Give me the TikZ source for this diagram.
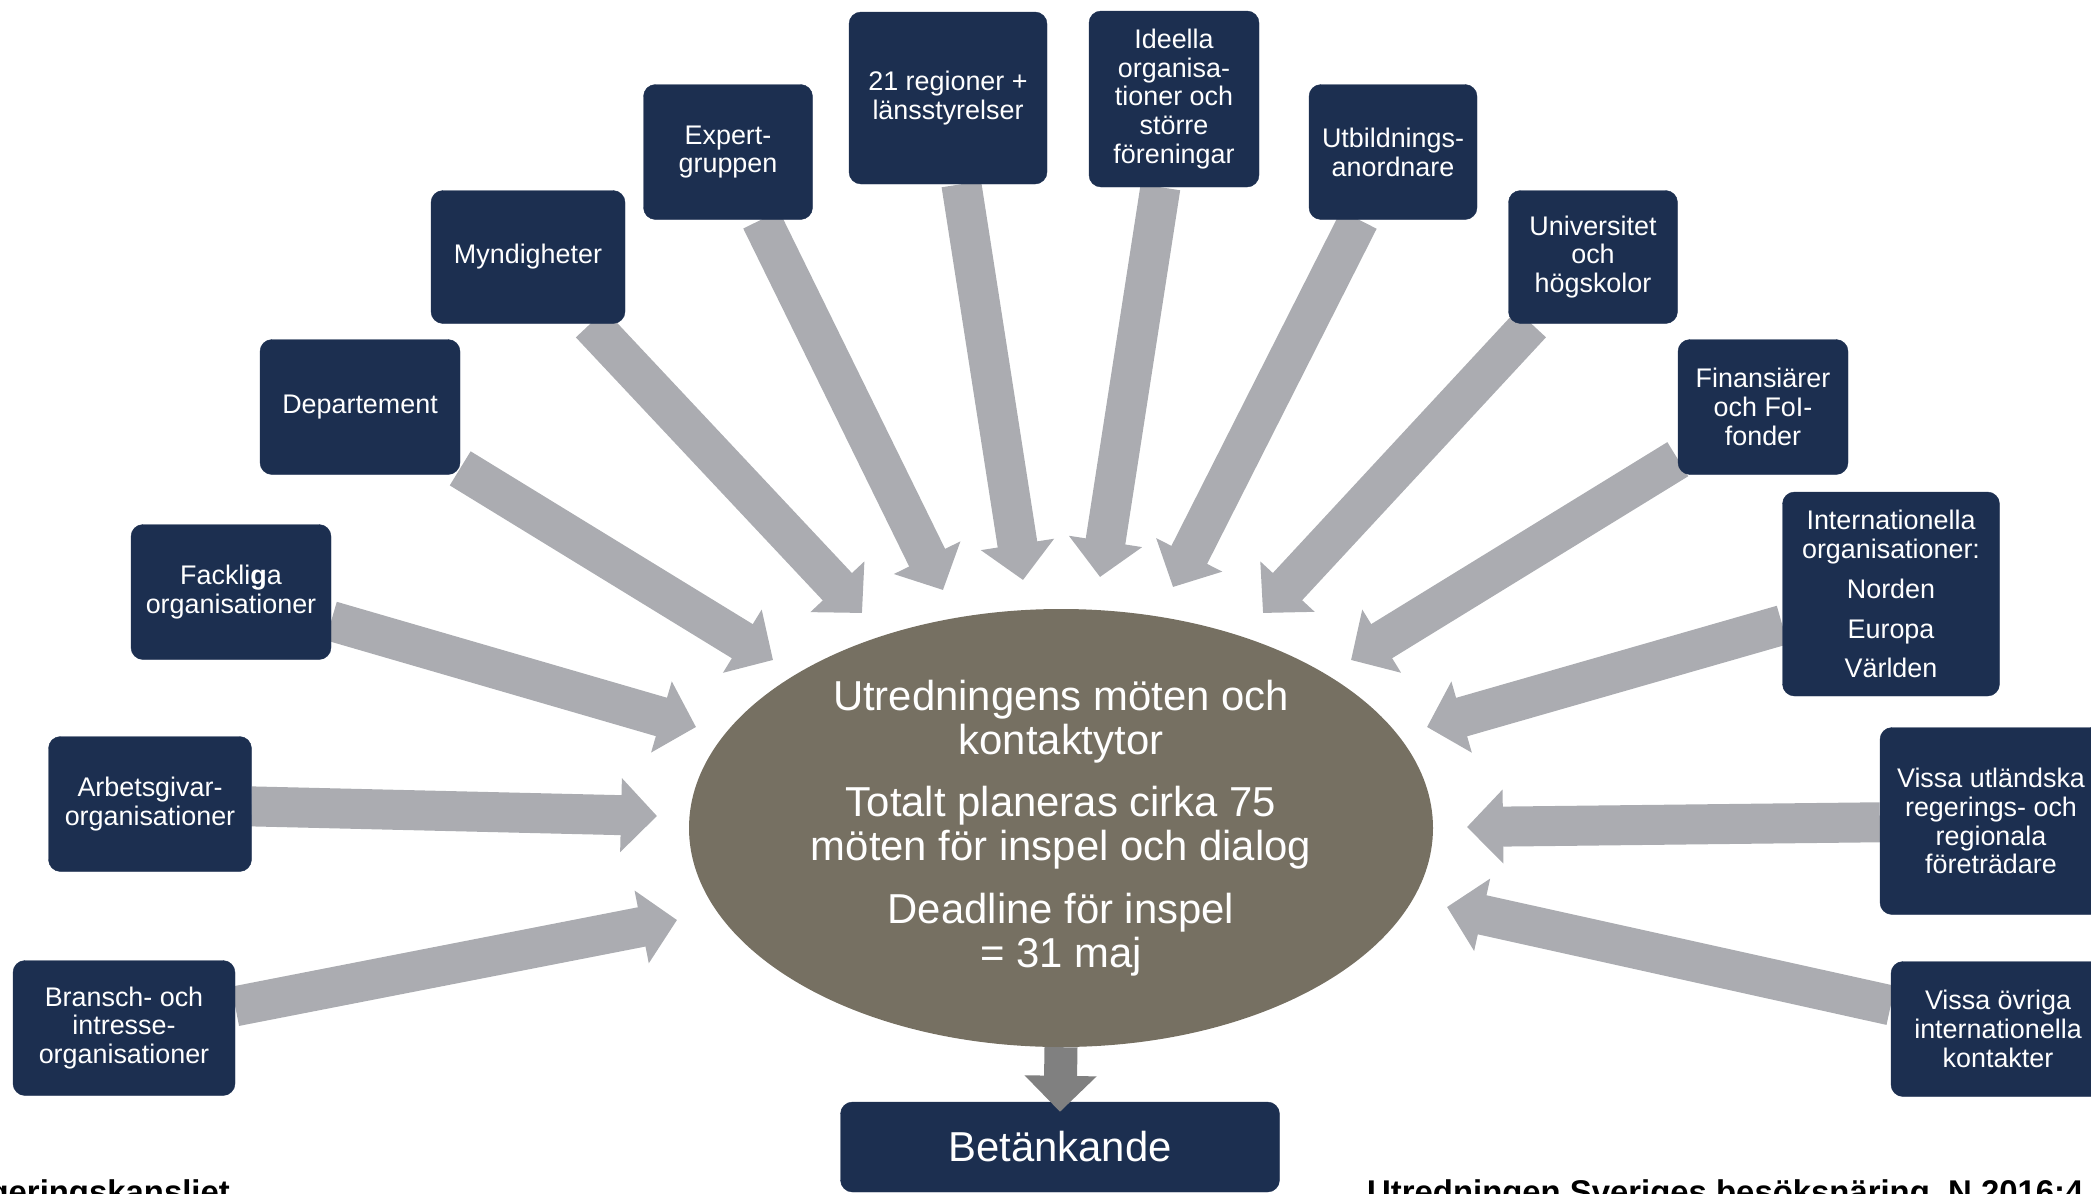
\documentclass[tikz,border=0pt]{standalone}
\usepackage{fontspec}
\setmainfont{Liberation Sans}
\usetikzlibrary{shapes.geometric,arrows.meta,backgrounds}
\definecolor{navy}{HTML}{1C2F50}
\definecolor{feedgray}{HTML}{ABACB1}
\definecolor{taupe}{HTML}{767062}
\definecolor{outgray}{HTML}{808080}

\begin{document}
\begin{tikzpicture}[
  box/.style={draw=navy,fill=navy,text=white,rounded corners=12bp,align=center,
    inner sep=0pt,minimum height=135bp,font=\fontsize{27}{29}\selectfont},
  feed/.style={draw=feedgray,line width=40bp,-{Triangle[width=72bp,length=36bp]}},
  result/.style={draw=outgray,line width=33bp,-{Triangle[width=70bp,length=36bp]}},
  foot/.style={inner sep=0pt,font=\bfseries\fontsize{#1}{#1}\selectfont}
]
\useasboundingbox (0bp,0bp) rectangle (2091bp,-1194bp);

% hub in the middle
\node (hub) at (1061bp,-828bp)[ellipse,fill=taupe,text=white,inner sep=0pt,minimum width=744bp,minimum height=438bp,align=center,font=\fontsize{42}{44}\selectfont]
  {Utredningens möten och\\ kontaktytor\\[19bp] Totalt planeras cirka 75\\ möten för inspel och dialog\\[19bp] Deadline för inspel\\ = 31 maj};

% contacts, left to right
\node (bra) at (124bp,-1028bp)[box,minimum width=222bp] {Bransch- och\\ intresse-\\ organisationer};
\node (arb) at (150bp,-804bp)[box,minimum width=203bp] {Arbetsgivar-\\ organisationer};
\node (fac) at (231bp,-592bp)[box,minimum width=200bp] {Fackli{\bfseries g}a\\ organisationer};
\node (dep) at (360bp,-407bp)[box,minimum width=200bp] {Departement};
\node (myn) at (528bp,-257bp)[box,minimum width=194bp,minimum height=133bp] {Myndigheter};
\node (exp) at (728bp,-152bp)[box,minimum width=169bp] {Expert-\\ gruppen};
\node (reg) at (948bp,-98bp)[box,minimum width=198bp,minimum height=172bp] {21 regioner +\\ länsstyrelser};
\node (ide) at (1174bp,-99bp)[box,minimum width=170bp,minimum height=176bp] {Ideella\\ organisa-\\ tioner och\\ större\\ föreningar};
\node (utb) at (1393bp,-152bp)[box,minimum width=168bp] {Utbildnings-\\ anordnare};
\node (uni) at (1593bp,-257bp)[box,minimum width=169bp,minimum height=133bp] {Universitet\\ och\\ högskolor};
\node (fin) at (1763bp,-407bp)[box,minimum width=170bp] {Finansiärer\\ och FoI-\\ fonder};
\node (int) at (1891bp,-594bp)[box,minimum width=217bp,minimum height=204bp] {Internationella\\ organisationer:\\[11bp] Norden\\[11bp] Europa\\[11bp] Världen};
\node (utl) at (1991bp,-821bp)[box,minimum width=222bp,minimum height=187bp] {Vissa utländska\\ regerings- och\\ regionala\\ företrädare};
\node (ovr) at (1998bp,-1029bp)[box,minimum width=214bp] {Vissa övriga\\ internationella\\ kontakter};
\node (bet) at (1060bp,-1147bp)[box,minimum width=439bp,minimum height=90bp,font=\fontsize{42}{44}\selectfont] {Betänkande};

% arrow tips around the hub
\coordinate (tbra) at (677bp,-920bp);
\coordinate (tarb) at (657bp,-816bp);
\coordinate (tfac) at (696bp,-727bp);
\coordinate (tdep) at (773bp,-660bp);
\coordinate (tmyn) at (862bp,-613bp);
\coordinate (texp) at (943bp,-590bp);
\coordinate (treg) at (1023bp,-580bp);
\coordinate (tide) at (1100bp,-577bp);
\coordinate (tutb) at (1173bp,-587bp);
\coordinate (tuni) at (1263bp,-613bp);
\coordinate (tfin) at (1351bp,-660bp);
\coordinate (tint) at (1427bp,-727bp);
\coordinate (tutl) at (1467bp,-827bp);
\coordinate (tovr) at (1447bp,-907bp);

\begin{scope}[on background layer]
\draw [feed] (bra) -- (tbra);
\draw [feed] (arb) -- (tarb);
\draw [feed] (fac) -- (tfac);
\draw [feed] (dep) -- (tdep);
\draw [feed] (myn) -- (tmyn);
\draw [feed] (exp) -- (texp);
\draw [feed] (reg) -- (treg);
\draw [feed] (ide) -- (tide);
\draw [feed] (utb) -- (tutb);
\draw [feed] (uni) -- (tuni);
\draw [feed] (fin) -- (tfin);
\draw [feed] (int) -- (tint);
\draw [feed] (utl) -- (tutl);
\draw [feed] (ovr) -- (tovr);
\end{scope}

\draw [result] (hub.south) -- ([yshift=-10bp]bet.north);

% footer, cut by the page edge
\node (rk) at (230bp,-1203bp)[foot=33,anchor=base east] {Regeringskansliet};
\node (ut) at (1367bp,-1203bp)[foot=33,anchor=base west] {Utredningen Sveriges besöksnäring, N 2016:4};
\end{tikzpicture}
\end{document}
